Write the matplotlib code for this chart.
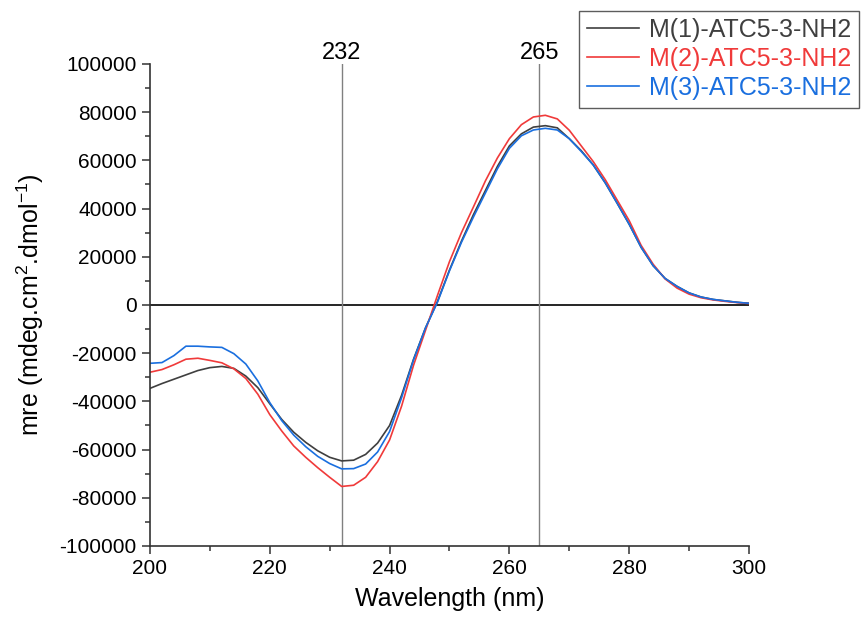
import numpy as np
import matplotlib
matplotlib.use("Agg")
import matplotlib.pyplot as plt
from matplotlib.ticker import MultipleLocator
import matplotlib.transforms as mtransforms

plt.rcParams['font.family'] = ['Liberation Sans', 'DejaVu Sans']
plt.rcParams['mathtext.default'] = 'regular'
plt.rcParams['axes.unicode_minus'] = False

# wavelength grid (nm), values every 2 nm
wavelength = list(range(200, 301, 2))

m1 = [-34600, -32600, -30800, -29000, -27200, -26000, -25500, -26300, -29500, -34300,
      -41000, -47500, -52800, -57000, -60500, -63200, -64700, -64400, -62000, -57300,
      -50000, -37500, -22500, -9500, 1500, 14500, 26500, 37500, 47500, 57500,
      66000, 71000, 73800, 74400, 73500, 69000, 64000, 58100, 50700, 42200,
      33500, 23900, 16300, 11000, 7700, 5000, 3300, 2300, 1700, 1100, 700]

m2 = [-27900, -26800, -24800, -22500, -22100, -23000, -24000, -26500, -30500, -37000,
      -45500, -52300, -58500, -63200, -67500, -71500, -75300, -74800, -71500, -65000,
      -56000, -42000, -25000, -10500, 4000, 18000, 30000, 40700, 51500, 61000,
      69000, 74800, 78000, 78700, 77200, 72500, 66000, 59500, 52000, 43500,
      35000, 24700, 16900, 10800, 7000, 4500, 3000, 2100, 1500, 1000, 600]

m3 = [-24200, -23900, -21000, -17100, -17100, -17400, -17600, -20200, -24500, -31500,
      -40500, -48000, -54000, -58800, -62800, -65800, -68000, -67900, -66000, -61000,
      -52500, -38500, -22800, -9500, 1200, 14200, 26000, 36500, 46500, 56500,
      65000, 70200, 72600, 73300, 72600, 69000, 63700, 58100, 50700, 42200,
      33500, 23900, 16300, 11000, 7700, 5000, 3300, 2300, 1700, 1100, 700]

labels = ['M(1)-ATC5-3-NH2', 'M(2)-ATC5-3-NH2', 'M(3)-ATC5-3-NH2']
colors = ['#3f3f3f', '#f03a3a', '#1a6fdf']
marks = [232, 265]

fig = plt.figure(figsize=(8.61, 6.21), dpi=100)
ax = fig.add_axes([0.1742, 0.1208, 0.6957, 0.7762])

for y, c, lab in zip([m1, m2, m3], colors, labels):
    ax.plot(wavelength, y, color=c, lw=1.2, label=lab)

ax.axhline(0, color='black', lw=1.2, zorder=1)
trans = mtransforms.blended_transform_factory(ax.transData, ax.transAxes)
for m in marks:
    ax.axvline(m, color='#808080', lw=1.0, zorder=1)
    ax.text(m, 1.01, str(m), transform=trans, ha='center', va='baseline', fontsize=17)

ax.set_xlim(200, 300)
ax.set_ylim(-100000, 100000)
ax.xaxis.set_major_locator(MultipleLocator(20))
ax.xaxis.set_minor_locator(MultipleLocator(10))
ax.yaxis.set_major_locator(MultipleLocator(20000))
ax.yaxis.set_minor_locator(MultipleLocator(10000))
ax.tick_params(which='major', direction='out', length=6, width=1.1, labelsize=15, color='#333333')
ax.tick_params(which='minor', direction='out', length=3.5, width=1.1, color='#333333')

for s in ['top', 'right']:
    ax.spines[s].set_visible(False)
for s in ['left', 'bottom']:
    ax.spines[s].set_linewidth(1.2)
    ax.spines[s].set_color('#333333')

ax.set_xlabel('Wavelength (nm)', fontsize=18, labelpad=6)
ax.set_ylabel('mre (mdeg.cm$^{2}$.dmol$^{-1}$)', fontsize=18, labelpad=10)

leg = fig.legend(loc='upper right', bbox_to_anchor=(0.998, 0.983), fontsize=18,
                 labelcolor='linecolor', frameon=True, fancybox=False,
                 edgecolor='#333333', handlelength=2.1, handletextpad=0.4,
                 borderpad=0.3, labelspacing=0.2, borderaxespad=0)
leg.get_frame().set_linewidth(1.0)

fig.savefig('out.png', dpi=100)
